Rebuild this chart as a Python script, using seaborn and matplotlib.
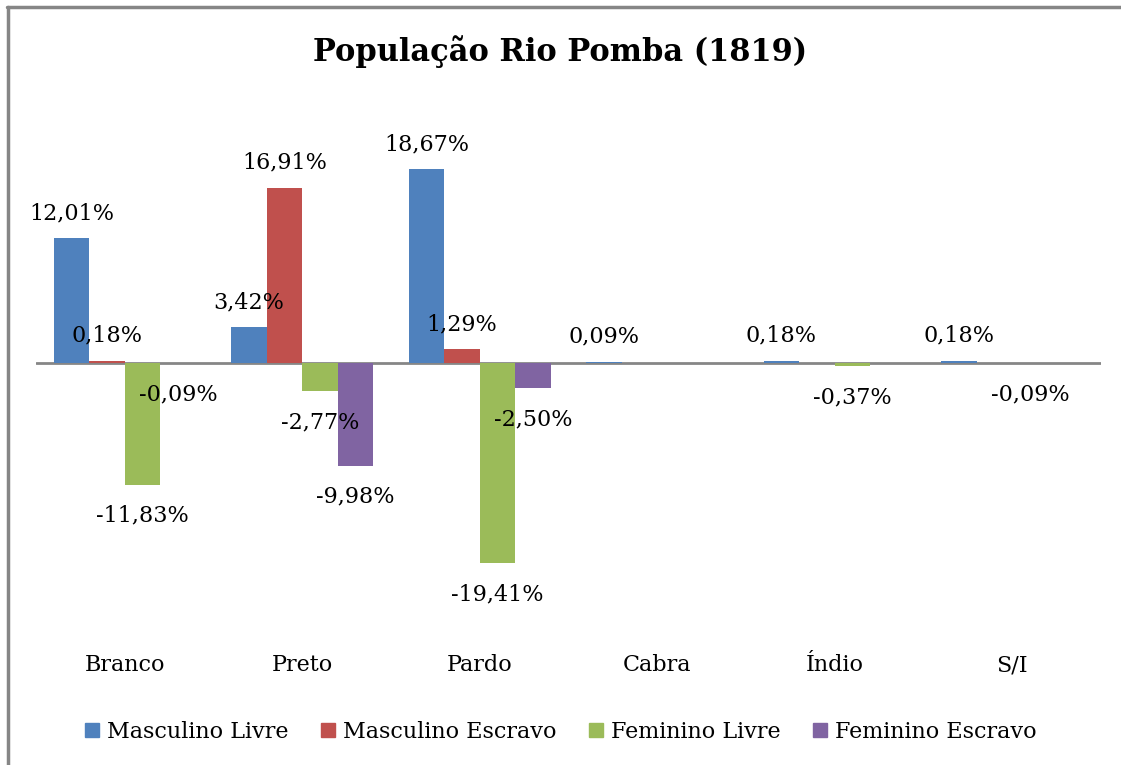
import matplotlib
matplotlib.use("Agg")
import matplotlib.pyplot as plt
import matplotlib.lines as mlines
import seaborn as sns
import pandas as pd

categories = ["Branco", "Preto", "Pardo", "Cabra", "Índio", "S/I"]
series_names = ["Masculino Livre", "Masculino Escravo", "Feminino Livre", "Feminino Escravo"]
masculino_livre = [12.01, 3.42, 18.67, 0.09, 0.18, 0.18]
masculino_escravo = [0.18, 16.91, 1.29, 0.0, 0.0, 0.0]
feminino_livre = [-11.83, -2.77, -19.41, 0.0, -0.37, -0.09]
feminino_escravo = [-0.09, -9.98, -2.50, 0.0, 0.0, 0.0]
colors = ["#4F81BD", "#C0504D", "#9BBB59", "#8064A2"]
title = "População Rio Pomba (1819)"

sns.set_style("white")
plt.rcParams["font.family"] = ["DejaVu Serif"]
plt.rcParams["text.color"] = "black"
plt.rcParams["xtick.color"] = "black"
plt.rcParams["xtick.labelcolor"] = "black"

rows = []
for name, vals in zip(series_names, [masculino_livre, masculino_escravo, feminino_livre, feminino_escravo]):
    for c, v in zip(categories, vals):
        rows.append({"cat": c, "serie": name, "val": v})
df = pd.DataFrame(rows)

fig = plt.figure(figsize=(11.21, 7.65), dpi=100)
ax = fig.add_axes([36 / 1121, 1 - 621 / 765, (1101 - 36) / 1121, (621 - 104) / 765])

sns.barplot(data=df, x="cat", y="val", hue="serie", order=categories, hue_order=series_names,
            palette=colors, width=0.8, saturation=1, ax=ax, legend=False, errorbar=None,
            linewidth=0, edgecolor="none", zorder=2)

ax.set_ylim(-25, 25)
ax.set_xlim(-0.5, len(categories) - 0.5)
ax.axhline(0, color="#868686", lw=2, zorder=1)
for s in ax.spines.values():
    s.set_visible(False)
ax.set_yticks([])
ax.set_xlabel("")
ax.set_ylabel("")
ax.tick_params(axis="x", length=0, pad=24, labelsize=16, labelcolor="black")

for cont, vals in zip(ax.containers, [masculino_livre, masculino_escravo, feminino_livre, feminino_escravo]):
    for bar, v in zip(cont, vals):
        if v == 0:
            continue
        xc = bar.get_x() + bar.get_width() / 2
        lab = f"{v:.2f}%".replace(".", ",")
        if v > 0:
            ax.annotate(lab, (xc, v), xytext=(0, 25), textcoords="offset pixels",
                        ha="center", va="center", fontsize=16, color="black", zorder=4)
        else:
            ax.annotate(lab, (xc, v), xytext=(0, -31), textcoords="offset pixels",
                        ha="center", va="center", fontsize=16, color="black", zorder=4)

fig.text(0.5, 1 - 52 / 765, title, ha="center", va="center", fontsize=22, fontweight="bold",
         color="black")

handles = [mlines.Line2D([], [], marker="s", linestyle="none", markersize=9.5,
                         markerfacecolor=c, markeredgecolor=c) for c in colors]
fig.legend(handles, series_names, loc="center", bbox_to_anchor=(0.5, 1 - 732 / 765), ncol=4,
           frameon=False, fontsize=16, handletextpad=0.3, columnspacing=1.45, handlelength=0.7,
           labelcolor="black")

# partial chart frame (top and left edges)
fig.add_artist(mlines.Line2D([7 / 1121, 1], [1 - 7 / 765, 1 - 7 / 765], transform=fig.transFigure,
                             color="#868686", lw=2.5))
fig.add_artist(mlines.Line2D([8 / 1121, 8 / 1121], [0, 1 - 7 / 765], transform=fig.transFigure,
                             color="#868686", lw=2.5))

fig.savefig("out.png", dpi=100)
